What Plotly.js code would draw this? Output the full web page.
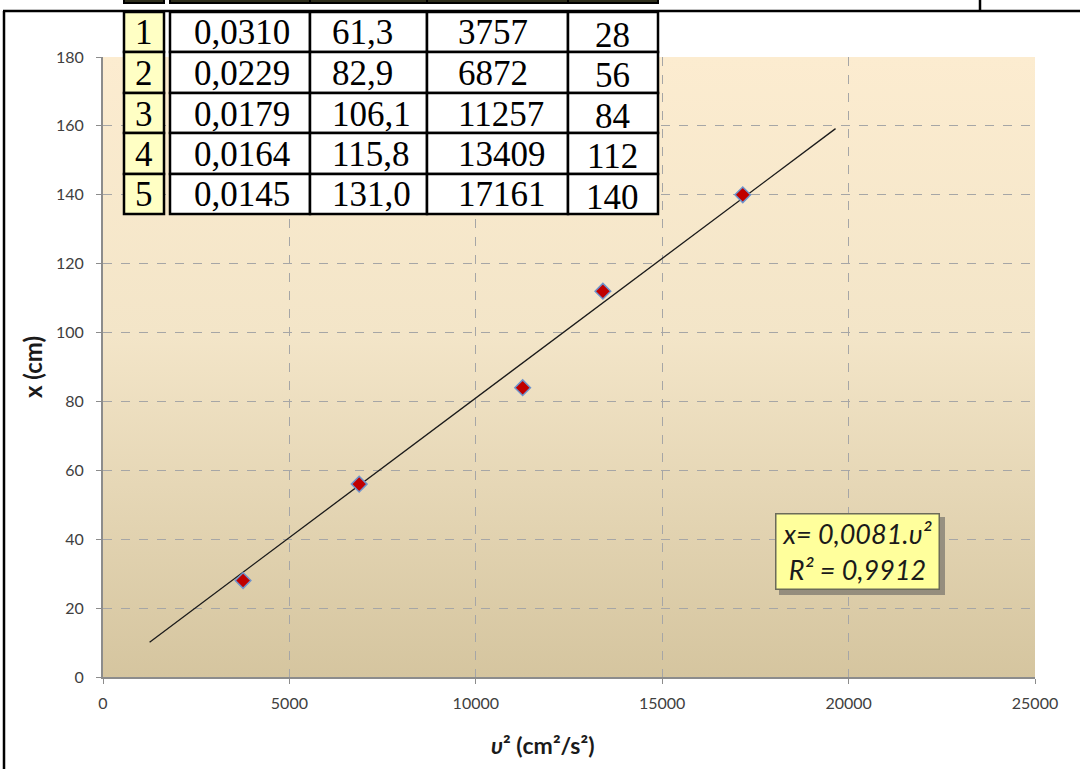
<!DOCTYPE html>
<html>
<head>
<meta charset="utf-8">
<script src="https://cdn.plot.ly/plotly-3.0.1.min.js"></script>
<style>html,body{margin:0;padding:0;background:#fff;}#chart{width:1080px;height:769px;}</style>
</head>
<body>
<div id="chart"></div>
<script>
// ---- data ----
const rowNum = ['1', '2', '3', '4', '5'];
const colPeriod = ['0,0310', '0,0229', '0,0179', '0,0164', '0,0145'];
const colSpeed = ['61,3', '82,9', '106,1', '115,8', '131,0'];
const vSquared = [3757, 6872, 11257, 13409, 17161];
const xDist = [28, 56, 84, 112, 140];
const trendX = [1250, 19650];
const trendY = [10.1, 159.2];
const xTickVals = [0, 5000, 10000, 15000, 20000, 25000];
const yTickVals = [0, 20, 40, 60, 80, 100, 120, 140, 160, 180];
const fitText = ['x= 0,0081.υ²', 'R² = 0,9912'];
const xTitle = '<b><i>υ</i>² (cm²/s²)</b>';
const yTitle = '<b>x (cm)</b>';

// ---- layout geometry (pixel -> paper) ----
const W = 1080, H = 769;
const L = 103, R = 1035, T = 57, B = 677;
const px = x => (x - L) / (R - L);
const py = y => (B - y) / (B - T);

const shapes = [];
const annotations = [];

// outer frame lines
shapes.push({type: 'line', xref: 'paper', yref: 'paper', x0: px(3), x1: px(1082), y0: py(11), y1: py(11), line: {color: '#000', width: 2.5}, layer: 'above'});
shapes.push({type: 'line', xref: 'paper', yref: 'paper', x0: px(4), x1: px(4), y0: py(11), y1: py(772), line: {color: '#000', width: 2.5}, layer: 'above'});
shapes.push({type: 'line', xref: 'paper', yref: 'paper', x0: px(980), x1: px(980), y0: py(-2), y1: py(11), line: {color: '#000', width: 2.5}, layer: 'above'});

// stub of the table row above (cut by the picture edge)
const colEdges = [170, 310, 427, 568, 658];
shapes.push({type: 'rect', xref: 'paper', yref: 'paper', x0: px(124), x1: px(164), y0: py(-4), y1: py(3), fillcolor: '#2e2e1c', line: {color: '#000', width: 2}, layer: 'above'});
for (let c = 0; c < 4; c++) {
  shapes.push({type: 'rect', xref: 'paper', yref: 'paper', x0: px(colEdges[c]), x1: px(colEdges[c + 1]), y0: py(-4), y1: py(3), fillcolor: '#2e2e1c', line: {color: '#000', width: 2}, layer: 'above'});
}

// table cells
const rowEdges = [12, 52, 93, 133, 174, 214];
for (let r = 0; r < rowNum.length; r++) {
  const y0 = rowEdges[r], y1 = rowEdges[r + 1];
  shapes.push({type: 'rect', xref: 'paper', yref: 'paper', x0: px(124), x1: px(164), y0: py(y0), y1: py(y1), fillcolor: '#FFFFC4', line: {color: '#000', width: 2.5}, layer: 'above'});
  for (let c = 0; c < 4; c++) {
    shapes.push({type: 'rect', xref: 'paper', yref: 'paper', x0: px(colEdges[c]), x1: px(colEdges[c + 1]), y0: py(y0), y1: py(y1), fillcolor: '#FFFFFF', line: {color: '#000', width: 2.5}, layer: 'above'});
  }
  const yc = (y0 + y1) / 2 + 1;
  const f = {family: 'Liberation Serif, Times New Roman, serif', size: 35, color: '#000'};
  annotations.push({xref: 'paper', yref: 'paper', x: px(144), y: py(yc), text: rowNum[r], showarrow: false, xanchor: 'center', yanchor: 'middle', font: f});
  annotations.push({xref: 'paper', yref: 'paper', x: px(192), y: py(yc), text: colPeriod[r], showarrow: false, xanchor: 'left', yanchor: 'middle', font: f});
  annotations.push({xref: 'paper', yref: 'paper', x: px(330), y: py(yc), text: colSpeed[r], showarrow: false, xanchor: 'left', yanchor: 'middle', font: f});
  annotations.push({xref: 'paper', yref: 'paper', x: px(456), y: py(yc), text: String(vSquared[r]), showarrow: false, xanchor: 'left', yanchor: 'middle', font: f});
  annotations.push({xref: 'paper', yref: 'paper', x: px(612), y: py(yc + 2), text: String(xDist[r]), showarrow: false, xanchor: 'center', yanchor: 'middle', font: f});
}

// fit box with shadow
shapes.push({type: 'rect', xref: 'paper', yref: 'paper', x0: px(779), x1: px(945), y0: py(517), y1: py(595), fillcolor: 'rgba(90,90,90,0.55)', line: {width: 0}, layer: 'above'});
annotations.push({
  xref: 'paper', yref: 'paper', x: px(857.5), y: py(551.5), xanchor: 'center', yanchor: 'middle',
  text: '<i>' + fitText.join('<br>') + '</i>', showarrow: false,
  width: 160, height: 72, bgcolor: '#FFFF9C', bordercolor: '#6b6b5a', borderwidth: 1.5, borderpad: 1,
  font: {family: 'Lato, Open Sans, sans-serif', size: 27, color: '#1a1a1a'}
});

// x axis title (sits left of the plot centre in the original)
annotations.push({
  xref: 'paper', yref: 'paper', x: px(542), y: py(745), xanchor: 'center', yanchor: 'middle',
  text: xTitle, showarrow: false,
  font: {family: 'Lato, Open Sans, sans-serif', size: 23, color: '#1a1a1a'}
});

// plot-area gradient
const svg = '<svg xmlns="http://www.w3.org/2000/svg" width="100" height="100" preserveAspectRatio="none">' +
  '<defs><linearGradient id="g" x1="0" y1="0" x2="0" y2="1">' +
  '<stop offset="0" stop-color="#FCECD0"/><stop offset="0.45" stop-color="#F3E5C8"/><stop offset="1" stop-color="#D5C59F"/>' +
  '</linearGradient></defs><rect width="100" height="100" fill="url(#g)"/></svg>';
const bgImg = 'data:image/svg+xml;charset=utf-8,' + encodeURIComponent(svg);

const traces = [
  {x: trendX, y: trendY, type: 'scatter', mode: 'lines', line: {color: '#1a1a1a', width: 1.3}, hoverinfo: 'skip', showlegend: false},
  {x: vSquared, y: xDist, type: 'scatter', mode: 'markers', showlegend: false,
   marker: {symbol: 'diamond', size: 12, color: '#C00000', line: {color: '#6E93CC', width: 1.5}}}
];

const tickFont = {family: 'Lato, Open Sans, sans-serif', size: 16, color: '#404040'};
const layout = {
  width: W, height: H,
  margin: {l: L, r: W - R, t: T, b: H - B, pad: 0},
  paper_bgcolor: '#FFFFFF', plot_bgcolor: 'rgba(0,0,0,0)',
  showlegend: false,
  images: [{source: bgImg, xref: 'paper', yref: 'paper', x: 0, y: 1, sizex: 1, sizey: 1, sizing: 'stretch', xanchor: 'left', yanchor: 'top', layer: 'below'}],
  xaxis: {
    range: [0, 25000], tickvals: xTickVals, ticktext: xTickVals.map(String),
    showgrid: true, gridcolor: '#A6A6A6', griddash: 'dash', gridwidth: 1,
    zeroline: false, showline: true, linecolor: '#8C8C8C', linewidth: 2,
    ticks: 'outside', ticklen: 5, tickcolor: '#8C8C8C', tickfont: tickFont, ticklabelstandoff: 6,
    fixedrange: true
  },
  yaxis: {
    range: [0, 180], tickvals: yTickVals, ticktext: yTickVals.map(String),
    showgrid: true, gridcolor: '#A6A6A6', griddash: 'dash', gridwidth: 1,
    zeroline: false, showline: true, linecolor: '#8C8C8C', linewidth: 2,
    ticks: 'outside', ticklen: 5, tickcolor: '#8C8C8C', tickfont: tickFont, ticklabelstandoff: 9,
    title: {text: yTitle, font: {family: 'Lato, Open Sans, sans-serif', size: 24, color: '#1a1a1a'}, standoff: 7},
    fixedrange: true
  },
  shapes: shapes,
  annotations: annotations
};

Plotly.newPlot('chart', traces, layout, {displayModeBar: false, staticPlot: true});
</script>
</body>
</html>
